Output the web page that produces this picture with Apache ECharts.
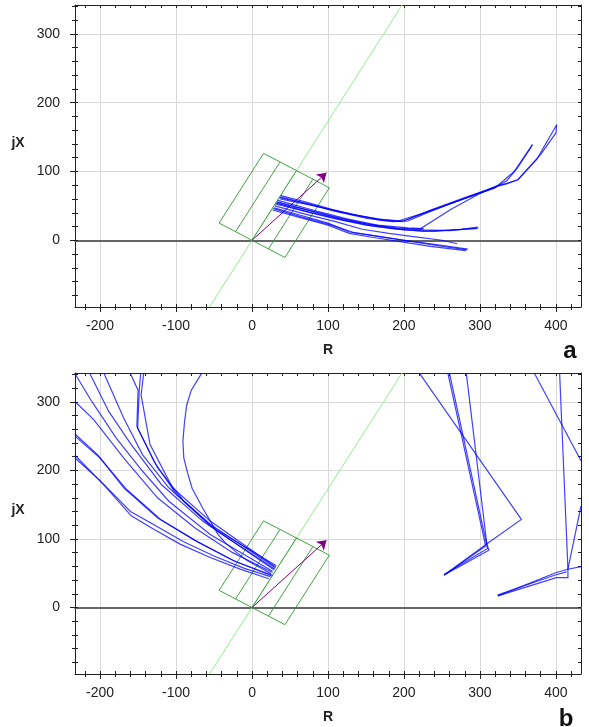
<!DOCTYPE html>
<html><head><meta charset="utf-8">
<script src="https://cdn.jsdelivr.net/npm/echarts@6/dist/echarts.min.js"></script>
<style>html,body{margin:0;padding:0;background:#fff}#c{width:589px;height:727px}</style>
</head><body><div id="c"></div>
<script>
// ---- axis ranges & ticks ----
const xRange = [-233, 433];
const yRange = [-97, 342];
const xTicks = [-200, -100, 0, 100, 200, 300, 400];
const yTicks = [0, 100, 200, 300];
const minorStep = 20;
const panelLetters = ['a', 'b'];
const axisNames = ['R', 'jX'];

// ---- protection zone / characteristic ----
const charAngle = 60;            // degrees
const zoneReach = 117;           // along characteristic
const zoneHalfWidth = 50;        // perpendicular
const zoneDividers = [-25, 0, 25];
const arrowTip = [98, 98];

// ---- impedance trajectories, panel a ----
const trajA = [
  [[38,65],[70,56],[105,45],[140,36],[165,31],[192,28],[227,40],[276,59],[321,77],[345,100],[369,139]],
  [[36,62],[72,53],[108,43],[142,35],[170,29],[196,27],[230,41],[278,60],[322,78],[350,88],[375,118],[401,168]],
  [[401,168],[400,156],[380,125],[350,88],[335,82],[322,79],[300,68],[262,45],[222,17],[195,16],[160,22],[120,30],[80,42],[33,55]],
  [[369,139],[366,133],[348,103],[335,86],[321,78],[280,62],[235,44],[200,28],[170,30],[130,38],[90,48],[37,60]],
  [[37,63],[75,53],[110,42],[150,32],[185,27],[205,28],[235,42],[280,61],[320,76]],
  [[33,56],[70,45],[110,34],[150,24],[190,18],[226,15],[260,14],[298,18]],
  [[31,53],[70,42],[110,31],[150,22],[185,17],[226,13],[265,15],[296,17]],
  [[32,54],[75,41],[118,30],[158,21],[200,15],[240,13],[275,16],[297,19]],
  [[34,58],[80,44],[125,31],[165,22],[205,18],[226,17]],
  [[29,47],[65,36],[100,25],[128,12],[165,6],[200,0],[240,-6],[284,-13]],
  [[27,44],[60,34],[100,22],[128,10],[160,4],[195,-2],[235,-9],[281,-15]],
  [[28,46],[65,34],[105,22],[135,11],[170,5],[205,-1],[245,-8],[283,-14]],
  [[30,50],[70,38],[110,27],[145,16],[180,10],[215,5],[250,0],[270,-5]]
];

// ---- impedance trajectories, panel b ----
const trajB = [
  [[-66.6,341],[-79.9,317],[-86,295],[-88.8,271],[-91,243],[-89.8,218],[-85,197],[-78.9,174],[-65,145],[-57.6,131],[-45,107],[-35.4,94.5],[-20,80],[-5.8,68],[14,56],[25,49]],
  [[-233,222],[-193.6,177],[-159,133.6],[-129.3,114.2],[-94.7,92.4],[-55,73],[-15.6,56],[22,42]],
  [[-233,218],[-200,185],[-160,140],[-125,118],[-90,96],[-50,75],[-10,57],[24,45]],
  [[-233,253],[-203.4,223],[-168.8,174.6],[-124.4,131],[-75,97.9],[-25.5,68.8],[26,46]],
  [[-233,250],[-200,218],[-165,172],[-120,128],[-72,96],[-22,67],[27,47]],
  [[-233,300.5],[-208.4,274],[-168.8,218],[-124.4,160],[-75,116],[-25.5,80],[27,51]],
  [[-233,341],[-210.9,300.5],[-178.7,247],[-144,198.7],[-109.5,155],[-55,106.6],[27,53]],
  [[-213.3,341],[-188.6,286],[-159,237.5],[-119.4,179.4],[-65,126],[29,55]],
  [[-194.6,341],[-168.8,276],[-144,222.7],[-109.5,174.6],[-55,121.4],[31,58]],
  [[-160,341],[-150,317],[-151.6,264],[-129.3,213.6],[-99.6,165],[-55,119],[32,61]],
  [[-146.6,341],[-148.4,317],[-150.5,261.6],[-124.4,203.9],[-89.8,155],[-45.3,111],[30,56]],
  [[-142.7,341],[-146,310],[-134.2,237.5],[-104.6,174.6],[-55,126],[31,59]],
  [[220.7,341],[354.5,128.5],[309.2,93],[252.6,47]],
  [[257.9,341],[307.5,89.7],[252.6,47]],
  [[260,341],[310,86],[253,48]],
  [[282.1,341],[309,93],[311.8,83.4],[254,48]],
  [[372,341],[433,214]],
  [[404.9,341],[415.8,55.8],[415.8,43.6],[400.5,43.6],[323.7,17]],
  [[323.7,17],[400.5,51],[415.8,55.8],[433,59.5]],
  [[323,18],[398,47],[414,52]],
  [[415.8,55.8],[433,148]]
];

// ---- helpers ----
const FONT = 'Liberation Sans, Arial, sans-serif';
function rangeSteps(lo, hi, step) {
  const out = [];
  for (let v = Math.ceil(lo / step) * step; v <= hi; v += step) out.push(v);
  return out;
}
const xMinor = rangeSteps(xRange[0], xRange[1], minorStep);
const yMinor = rangeSteps(yRange[0], yRange[1], minorStep);

const rad = charAngle * Math.PI / 180;
const dirU = [Math.cos(rad), Math.sin(rad)];
const dirV = [Math.sin(rad), -Math.cos(rad)];
function uv(u, v) { return [u * dirU[0] + v * dirV[0], u * dirU[1] + v * dirV[1]]; }
const zoneLines = [
  [uv(0, -zoneHalfWidth), uv(zoneReach, -zoneHalfWidth), uv(zoneReach, zoneHalfWidth), uv(0, zoneHalfWidth), uv(0, -zoneHalfWidth)]
].concat(zoneDividers.map(v => [uv(0, v), uv(zoneReach, v)]));
const charLine = [[yRange[0] / Math.tan(rad), yRange[0]], [yRange[1] / Math.tan(rad), yRange[1]]];

const grids = [
  { left: 75, top: 5, width: 506, height: 302, outerBoundsMode: 'none' },
  { left: 75, top: 373, width: 506, height: 301, outerBoundsMode: 'none' }
];

const xAxis = [], yAxis = [], series = [], graphic = [];
const dark = '#222';
grids.forEach((g, gi) => {
  const xBase = { type: 'value', gridIndex: gi, min: xRange[0], max: xRange[1], splitLine: { show: false }, axisLabel: { show: false }, axisTick: { show: false }, axisLine: { show: false, onZero: false } };
  const yBase = { type: 'value', gridIndex: gi, min: yRange[0], max: yRange[1], splitLine: { show: false }, axisLabel: { show: false }, axisTick: { show: false }, axisLine: { show: false, onZero: false } };
  const xMainIdx = xAxis.length;
  xAxis.push(Object.assign({}, xBase, {
    position: 'bottom',
    axisLine: { show: true, onZero: false, lineStyle: { color: dark, width: 1 } },
    axisTick: { show: true, inside: false, length: 5, customValues: xTicks, lineStyle: { color: dark } },
    axisLabel: { show: true, customValues: xTicks, margin: 12, fontSize: 14, color: dark, fontFamily: FONT },
    splitLine: { show: true, lineStyle: { color: '#d9d9d9', width: 1 } },
    name: axisNames[0], nameLocation: 'middle', nameGap: 36,
    nameTextStyle: { fontSize: 14, fontWeight: 'bold', color: dark, fontFamily: FONT }
  }));
  xAxis.push(Object.assign({}, xBase, { position: 'bottom', axisTick: { show: true, inside: true, length: 3, customValues: xMinor, lineStyle: { color: dark } } }));
  xAxis.push(Object.assign({}, xBase, { position: 'bottom', axisTick: { show: true, inside: false, length: 3, customValues: xMinor, lineStyle: { color: dark } } }));
  xAxis.push(Object.assign({}, xBase, { position: 'top', axisLine: { show: true, onZero: false, lineStyle: { color: dark, width: 1 } }, axisTick: { show: true, inside: true, length: 3, customValues: xMinor, lineStyle: { color: dark } } }));
  xAxis.push(Object.assign({}, xBase, { position: 'bottom', axisLine: { show: true, onZero: true, lineStyle: { color: '#666', width: 2 } } }));

  const yMainIdx = yAxis.length;
  yAxis.push(Object.assign({}, yBase, {
    position: 'left',
    axisLine: { show: true, onZero: false, lineStyle: { color: dark, width: 1 } },
    axisTick: { show: true, inside: false, length: 5, customValues: yTicks, lineStyle: { color: dark } },
    axisLabel: { show: true, customValues: yTicks, margin: 15, fontSize: 14, color: dark, fontFamily: FONT },
    splitLine: { show: true, lineStyle: { color: '#d9d9d9', width: 1 } }
  }));
  yAxis.push(Object.assign({}, yBase, { position: 'left', axisTick: { show: true, inside: true, length: 3, customValues: yMinor, lineStyle: { color: dark } } }));
  yAxis.push(Object.assign({}, yBase, { position: 'left', axisTick: { show: true, inside: false, length: 3, customValues: yMinor, lineStyle: { color: dark } } }));
  yAxis.push(Object.assign({}, yBase, { position: 'right', axisLine: { show: true, onZero: false, lineStyle: { color: dark, width: 1 } }, axisTick: { show: true, inside: true, length: 3, customValues: yMinor, lineStyle: { color: dark } } }));

  // y-axis title (placed above the vertical centre, as in the original)
  graphic.push({ type: 'text', style: { text: axisNames[1], x: 18, y: g.top + g.height / 2 - 13, align: 'center', verticalAlign: 'middle', font: 'bold 14px ' + FONT, fill: dark } });

  const common = { type: 'lines', coordinateSystem: 'cartesian2d', xAxisIndex: xMainIdx, yAxisIndex: yMainIdx, silent: true, animation: false };
  series.push(Object.assign({}, common, { polyline: true, z: 2, data: [{ coords: charLine }], lineStyle: { color: '#90ee90', width: 1, opacity: 1 } }));
  series.push(Object.assign({}, common, { polyline: true, z: 3, data: zoneLines.map(c => ({ coords: c })), lineStyle: { color: '#2e9a2e', width: 1, opacity: 0.9 } }));
  series.push(Object.assign({}, common, { polyline: false, z: 4, symbol: ['none', 'arrow'], symbolSize: 9, data: [{ coords: [[0, 0], arrowTip] }], lineStyle: { color: '#800080', width: 1, opacity: 1 } }));
  const traj = gi === 0 ? trajA : trajB;
  series.push(Object.assign({}, common, { polyline: true, z: 5, data: traj.map(c => ({ coords: c })), lineStyle: { color: '#0000ff', width: 1.2, opacity: 0.75 } }));
});

graphic.push({ type: 'text', style: { text: panelLetters[0], x: 570, y: 363, align: 'center', verticalAlign: 'bottom', font: 'bold 24px ' + FONT, fill: '#111' } });
graphic.push({ type: 'text', style: { text: panelLetters[1], x: 566, y: 731, align: 'center', verticalAlign: 'bottom', font: 'bold 24px ' + FONT, fill: '#111' } });

const chart = echarts.init(document.getElementById('c'), null, { renderer: 'canvas' });
chart.setOption({
  animation: false,
  backgroundColor: '#fff',
  grid: grids,
  xAxis: xAxis,
  yAxis: yAxis,
  series: series,
  graphic: graphic
});
</script></body></html>
